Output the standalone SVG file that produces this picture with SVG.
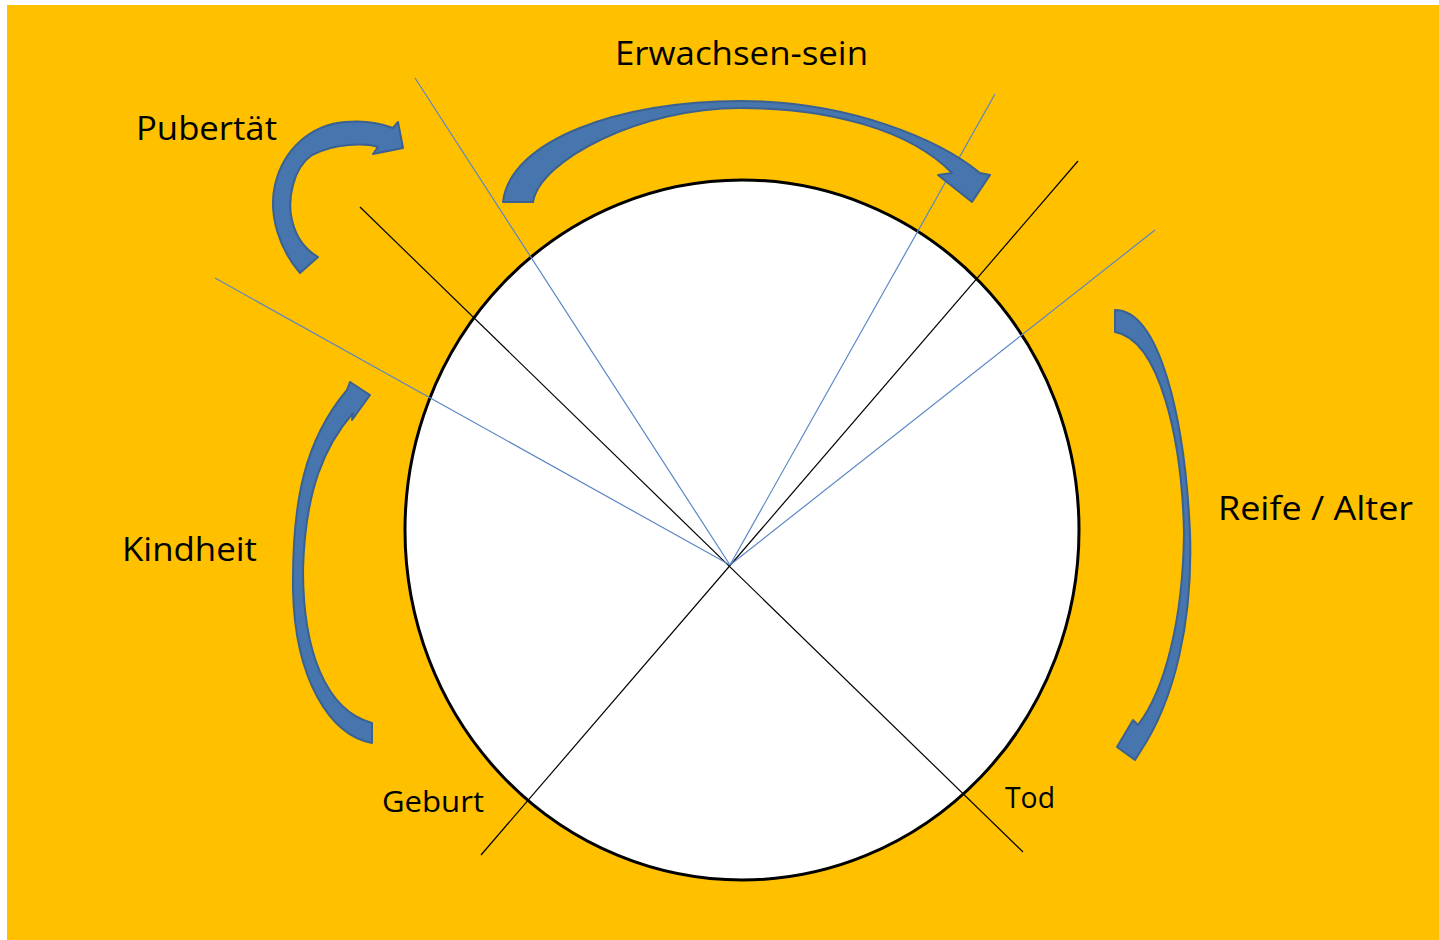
<svg xmlns="http://www.w3.org/2000/svg" width="1439" height="940" viewBox="0 0 1439 940">
  <defs>
    <style>
      .lbl { font-family: "Open Sans", "Liberation Sans", sans-serif; font-size: 33px; fill: #000; }
      .blk { stroke: #000; stroke-width: 1.2; fill: none; }
      .blu { stroke: #5B86C5; stroke-width: 1.2; fill: none; }
      .arr { fill: #4775AD; stroke: #3A6192; stroke-width: 2; stroke-linejoin: round; }
    </style>
  </defs>
  <rect x="0" y="0" width="1439" height="940" fill="#FFFFFF"/>
  <rect x="7" y="5" width="1432" height="935" fill="#FFC000"/>

  <g id="circle">
    <ellipse cx="742" cy="530" rx="337" ry="350" fill="#FFFFFF" stroke="#000" stroke-width="3"/>
  </g>

  <g id="connectors">
    <line class="blk" x1="360" y1="207" x2="1023" y2="852"/>
    <line class="blk" x1="1078" y1="161" x2="481" y2="855"/>
    <line class="blu" x1="415" y1="78" x2="730" y2="565"/>
    <line class="blu" x1="995" y1="94" x2="730" y2="565"/>
    <line class="blu" x1="215" y1="278" x2="730" y2="565"/>
    <line class="blu" x1="1155" y1="230" x2="730" y2="565"/>
  </g>

  <g id="arrow-pubertaet">
    <path class="arr" d="M300,273 C280,250 268,215 275,185 C283,150 310,125 345,122 C365,120 383,124 393,128 L398,122 L403,148 L373,154 L378,147 C365,143 335,143 312,155 C293,168 287,200 292,220 C296,238 306,250 318,257 Z"/>
  </g>
  <g id="arrow-erwachsen">
    <path class="arr" d="M503,202 C510,140 620,101 740,101 C850,101 940,140 980,173 L990,175 L972,202 L938,175 L952,173 C910,130 830,108 740,108 C640,108 540,160 533,202 Z"/>
  </g>
  <g id="arrow-kindheit">
    <path class="arr" d="M372,743 C330,735 295,680 293,590 C292,500 305,440 347,390 L350,382 L370,395 L352,420 L353,413 C325,445 305,490 303,570 C303,650 325,710 372,723 Z"/>
  </g>
  <g id="arrow-reife">
    <path class="arr" d="M1115,310 C1160,310 1185,420 1190,533 C1193,620 1175,700 1140,752 L1135,760 L1117,747 L1133,720 L1138,725 C1165,690 1183,620 1184,533 C1182,440 1160,340 1115,332 Z"/>
  </g>

  <g id="label-pubertaet"><text class="lbl" x="136" y="140" textLength="141" lengthAdjust="spacingAndGlyphs">Pubertät</text></g>
  <g id="label-erwachsen"><text class="lbl" x="615" y="65" textLength="253" lengthAdjust="spacingAndGlyphs">Erwachsen-sein</text></g>
  <g id="label-kindheit"><text class="lbl" x="122" y="561" textLength="135" lengthAdjust="spacingAndGlyphs">Kindheit</text></g>
  <g id="label-reife"><text class="lbl" x="1218" y="520" textLength="195" lengthAdjust="spacingAndGlyphs">Reife / Alter</text></g>
  <g id="label-geburt"><text class="lbl" x="382" y="812" textLength="102" lengthAdjust="spacingAndGlyphs" style="font-size:30px">Geburt</text></g>
  <g id="label-tod"><text class="lbl" x="1005" y="808" textLength="50" lengthAdjust="spacingAndGlyphs" style="font-size:30px">Tod</text></g>
</svg>
